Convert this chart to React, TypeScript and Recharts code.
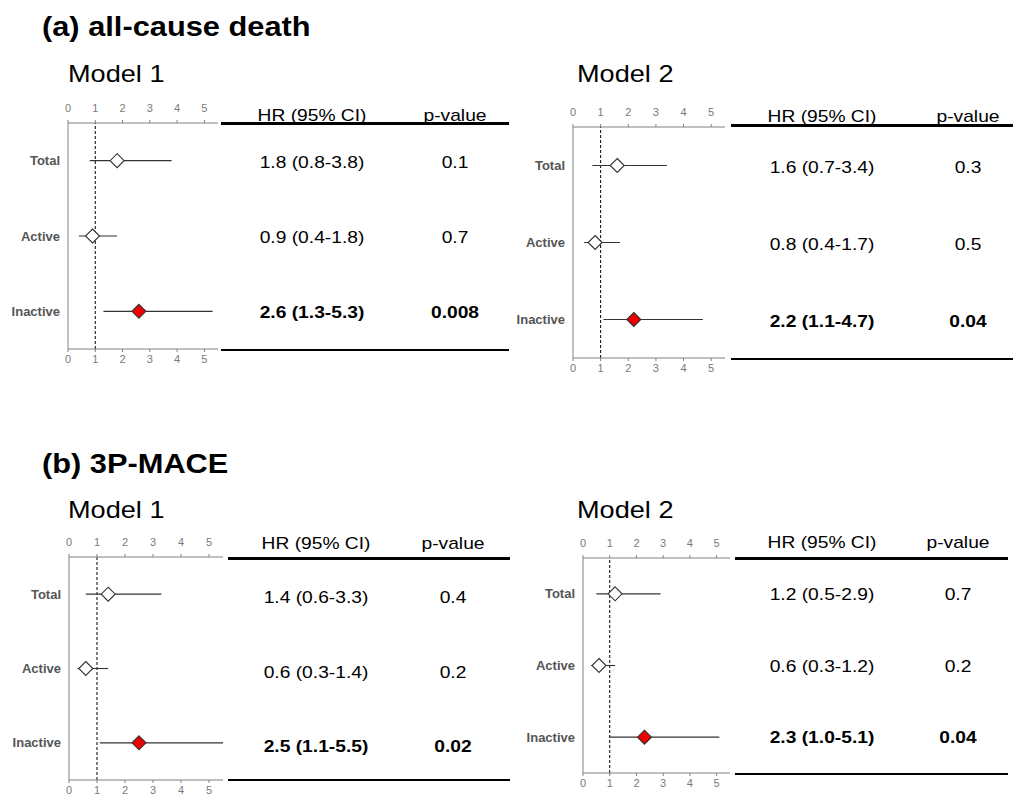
import React from 'react';
import { ScatterChart, Scatter, XAxis, YAxis, ReferenceLine, ErrorBar } from 'recharts';

// ---------- data ----------
const CATEGORIES = ['Total', 'Active', 'Inactive'];
const X_TICKS = [0, 1, 2, 3, 4, 5];

const DEATH_M1_HR = [1.8, 0.9, 2.6];
const DEATH_M1_LO = [0.8, 0.4, 1.3];
const DEATH_M1_HI = [3.8, 1.8, 5.3];
const DEATH_M1_P = ['0.1', '0.7', '0.008'];

const DEATH_M2_HR = [1.6, 0.8, 2.2];
const DEATH_M2_LO = [0.7, 0.4, 1.1];
const DEATH_M2_HI = [3.4, 1.7, 4.7];
const DEATH_M2_P = ['0.3', '0.5', '0.04'];

const MACE_M1_HR = [1.4, 0.6, 2.5];
const MACE_M1_LO = [0.6, 0.3, 1.1];
const MACE_M1_HI = [3.3, 1.4, 5.5];
const MACE_M1_P = ['0.4', '0.2', '0.02'];

const MACE_M2_HR = [1.2, 0.6, 2.3];
const MACE_M2_LO = [0.5, 0.3, 1.0];
const MACE_M2_HI = [2.9, 1.2, 5.1];
const MACE_M2_P = ['0.7', '0.2', '0.04'];

const SECTION_TITLES = ['(a) all-cause death', '(b) 3P-MACE'];
const MODEL_TITLES = ['Model 1', 'Model 2'];
const TABLE_HEADERS = ['HR (95% CI)', 'p-value'];

type Row = { name: string; hr: number; lo: number; hi: number; p: string; err: [number, number]; sig: boolean };

function buildRows(hr: number[], lo: number[], hi: number[], p: string[]): Row[] {
  return CATEGORIES.map((name, i) => ({
    name,
    hr: hr[i],
    lo: lo[i],
    hi: hi[i],
    p: p[i],
    err: [hr[i] - lo[i], hi[i] - hr[i]] as [number, number],
    sig: parseFloat(p[i]) < 0.05,
  }));
}

const FONT = 'Arial, "Liberation Sans", Helvetica, sans-serif';

// ---------- layout ----------
type Layout = {
  plotLeft: number; plotRight: number; plotTop: number; plotBottom: number;
  tLeft: number; tRight: number; tTop: number; tBottom: number; tTopW: number; tBotW: number;
  hrX: number; pX: number; headY: number; rowShift: number;
};

const PANELS: { rows: Row[]; layout: Layout }[] = [
  {
    rows: buildRows(DEATH_M1_HR, DEATH_M1_LO, DEATH_M1_HI, DEATH_M1_P),
    layout: { plotLeft: 68, plotRight: 218, plotTop: 123, plotBottom: 349, tLeft: 221, tRight: 509, tTop: 123, tBottom: 350, tTopW: 3, tBotW: 1.5, hrX: 312, pX: 455, headY: 115, rowShift: 1 },
  },
  {
    rows: buildRows(DEATH_M2_HR, DEATH_M2_LO, DEATH_M2_HI, DEATH_M2_P),
    layout: { plotLeft: 573, plotRight: 725, plotTop: 127, plotBottom: 358, tLeft: 731, tRight: 1013, tTop: 125, tBottom: 359, tTopW: 3, tBotW: 1.5, hrX: 822, pX: 968, headY: 116, rowShift: 1 },
  },
  {
    rows: buildRows(MACE_M1_HR, MACE_M1_LO, MACE_M1_HI, MACE_M1_P),
    layout: { plotLeft: 69, plotRight: 223, plotTop: 557, plotBottom: 780, tLeft: 228, tRight: 510, tTop: 558, tBottom: 780, tTopW: 3, tBotW: 1.5, hrX: 316, pX: 453, headY: 543, rowShift: 3 },
  },
  {
    rows: buildRows(MACE_M2_HR, MACE_M2_LO, MACE_M2_HI, MACE_M2_P),
    layout: { plotLeft: 583, plotRight: 730, plotTop: 558, plotBottom: 773, tLeft: 735, tRight: 1008, tTop: 558, tBottom: 774, tTopW: 3, tBotW: 2.5, hrX: 822, pX: 958, headY: 542, rowShift: 0 },
  },
];

const AXIS_COLOR = '#808080';
const TOP_AXIS_H = 30;
const BOTTOM_AXIS_H = 30;

const Diamond = (props: any) => {
  const { cx, cy, payload } = props;
  if (cx == null || cy == null) return null;
  const r = 7;
  return (
    <polygon
      points={`${cx},${cy - r} ${cx + r},${cy} ${cx},${cy + r} ${cx - r},${cy}`}
      fill={payload && payload.sig ? '#ee0000' : '#ffffff'}
      stroke="#333333"
      strokeWidth={1.1}
    />
  );
};

const NoShape = () => <g />;

function ForestPlot({ rows, layout }: { rows: Row[]; layout: Layout }) {
  const width = layout.plotRight + 4;
  const chartTop = layout.plotTop - TOP_AXIS_H;
  const height = layout.plotBottom - layout.plotTop + TOP_AXIS_H + BOTTOM_AXIS_H;
  const tickStyle = { fontSize: 11, fill: '#7a7a7a', fontFamily: FONT };
  return (
    <div style={{ position: 'absolute', left: 0, top: chartTop }}>
      <ScatterChart width={width} height={height} margin={{ top: 0, right: 4, bottom: 0, left: 0 }}>
        <XAxis
          xAxisId="top"
          orientation="top"
          type="number"
          dataKey="hr"
          domain={[0, 5.5]}
          ticks={X_TICKS}
          height={TOP_AXIS_H}
          stroke={AXIS_COLOR}
          tick={tickStyle}
          tickSize={3}
          tickMargin={8}
          allowDataOverflow
        />
        <XAxis
          xAxisId="bottom"
          orientation="bottom"
          type="number"
          dataKey="hr"
          domain={[0, 5.5]}
          ticks={X_TICKS}
          height={BOTTOM_AXIS_H}
          stroke={AXIS_COLOR}
          tick={tickStyle}
          tickSize={3}
          tickMargin={3}
          allowDataOverflow
        />
        <YAxis
          yAxisId="y"
          type="category"
          dataKey="name"
          width={layout.plotLeft}
          reversed
          stroke={AXIS_COLOR}
          tickLine={false}
          tickSize={0}
          tickMargin={8}
          tick={{ fontSize: 13, fontWeight: 'bold', fill: '#555555', fontFamily: FONT }}
          allowDuplicatedCategory={false}
        />
        <ReferenceLine xAxisId="bottom" yAxisId="y" x={1} stroke="#000" strokeDasharray="3 2" strokeWidth={1} />
        <Scatter data={rows} xAxisId="top" yAxisId="y" shape={NoShape} isAnimationActive={false} />
        <Scatter data={rows} xAxisId="bottom" yAxisId="y" shape={Diamond} isAnimationActive={false}>
          <ErrorBar dataKey="err" direction="x" width={0} stroke="#333333" strokeWidth={1.1} isAnimationActive={false} />
        </Scatter>
      </ScatterChart>
    </div>
  );
}

function StretchText({ x, y, text, size, bold, anchor, sx }: { x: number; y: number; text: string; size: number; bold?: boolean; anchor: 'left' | 'center'; sx: number }) {
  return (
    <div
      style={{
        position: 'absolute',
        left: x,
        top: y,
        whiteSpace: 'nowrap',
        fontFamily: FONT,
        fontSize: size,
        fontWeight: bold ? 'bold' : 'normal',
        color: '#000',
        lineHeight: 1,
        transform: anchor === 'center' ? `translate(-50%, -50%) scaleX(${sx})` : `translateY(-50%) scaleX(${sx})`,
        transformOrigin: anchor === 'center' ? 'center' : 'left center',
      }}
    >
      {text}
    </div>
  );
}

function ResultTable({ rows, layout }: { rows: Row[]; layout: Layout }) {
  const band = (layout.plotBottom - layout.plotTop) / rows.length;
  const sx = 1.13;
  return (
    <>
      <div style={{ position: 'absolute', left: layout.tLeft, top: layout.tTop - layout.tTopW / 2, width: layout.tRight - layout.tLeft, height: layout.tTopW, background: '#000' }} />
      <div style={{ position: 'absolute', left: layout.tLeft, top: layout.tBottom - layout.tBotW / 2, width: layout.tRight - layout.tLeft, height: layout.tBotW, background: '#000' }} />
      <StretchText x={layout.hrX} y={layout.headY} text={TABLE_HEADERS[0]} size={17} anchor="center" sx={sx} />
      <StretchText x={layout.pX} y={layout.headY} text={TABLE_HEADERS[1]} size={17} anchor="center" sx={sx} />
      {rows.map((r, i) => {
        const y = layout.plotTop + band * (i + 0.5) + layout.rowShift;
        const hrText = `${r.hr.toFixed(1)} (${r.lo.toFixed(1)}-${r.hi.toFixed(1)})`;
        return (
          <React.Fragment key={r.name}>
            <StretchText x={layout.hrX} y={y} text={hrText} size={17} bold={r.sig} anchor="center" sx={sx} />
            <StretchText x={layout.pX} y={y} text={r.p} size={17} bold={r.sig} anchor="center" sx={sx} />
          </React.Fragment>
        );
      })}
    </>
  );
}

export default function App() {
  return (
    <div style={{ position: 'absolute', left: 0, top: 0, width: 1013, height: 795, background: '#fff', overflow: 'hidden' }}>
      <StretchText x={42} y={27} text={SECTION_TITLES[0]} size={27} bold anchor="left" sx={1.14} />
      <StretchText x={42} y={464} text={SECTION_TITLES[1]} size={27} bold anchor="left" sx={1.14} />
      <StretchText x={68} y={74} text={MODEL_TITLES[0]} size={24} anchor="left" sx={1.13} />
      <StretchText x={577} y={74} text={MODEL_TITLES[1]} size={24} anchor="left" sx={1.13} />
      <StretchText x={68} y={510} text={MODEL_TITLES[0]} size={24} anchor="left" sx={1.13} />
      <StretchText x={577} y={510} text={MODEL_TITLES[1]} size={24} anchor="left" sx={1.13} />
      {PANELS.map((p, i) => (
        <React.Fragment key={i}>
          <ForestPlot rows={p.rows} layout={p.layout} />
          <ResultTable rows={p.rows} layout={p.layout} />
        </React.Fragment>
      ))}
    </div>
  );
}
